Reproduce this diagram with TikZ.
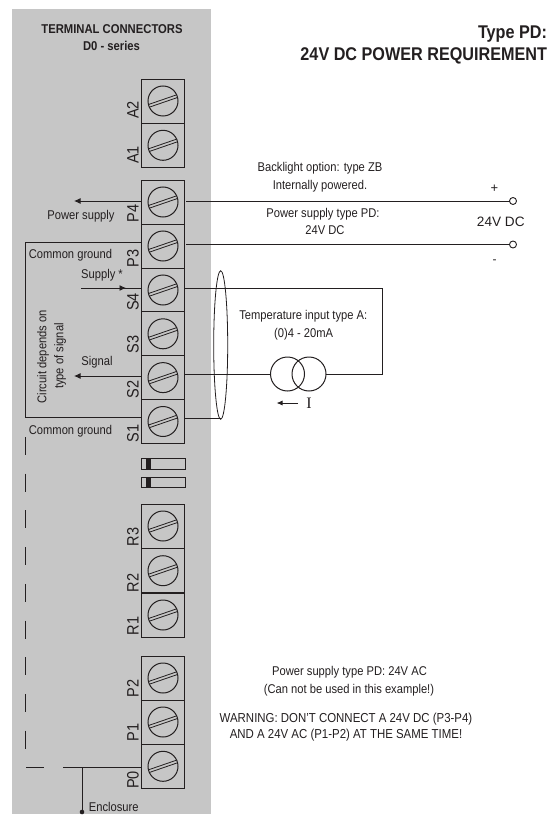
\documentclass[tikz,border=0pt]{standalone}
\usepackage{fontspec}
\setmainfont[FakeStretch=0.88]{Liberation Sans}
\newfontfamily\plainsans{Liberation Sans}
\newfontfamily\serifI{Liberation Serif}
\usetikzlibrary{arrows.meta,shapes.geometric}
\newcommand{\fsz}[1]{\fontsize{#1}{#1}\selectfont}
\definecolor{panel}{HTML}{C6C6C6}
\definecolor{ink}{HTML}{231F20}
\tikzset{
  x=1pt,y=-1pt,
  term/.style={draw=ink,line width=0.9pt,fill=panel,minimum width=43pt,minimum height=44pt,inner sep=0pt,outer sep=0pt},
  wire/.style={draw=ink,line width=0.9pt},
  arr/.style={wire,-{Latex[length=6.5pt,width=6pt]}},
  dashwire/.style={draw=ink,line width=0.9pt,dash pattern=on 18pt off 18.7pt},
  lab/.style={inner sep=0pt,outer sep=0pt,text=ink,font=\fsz{12.7},align=center},
  tlab/.style={lab,font=\fsz{16.5},rotate=90},
  endpt/.style={circle,draw=ink,line width=0.9pt,fill=white,minimum size=7pt,inner sep=0pt,outer sep=0pt},
  src/.style={circle,draw=ink,line width=1pt,minimum size=34pt,inner sep=0pt,outer sep=0pt},
}
\newcommand{\terminal}[4]{%
  \node[term] (#1) at (162.5,#2) {};
  \draw[ink,line width=1pt] (163,#2) circle (15);
  \begin{scope}[shift={(163,#2)},rotate=19]
    \draw[ink,line width=0.8pt] (-14.7,-1.4) -- (14.7,-1.4);
    \draw[ink,line width=0.8pt] (-14.7,1.4) -- (14.7,1.4);
  \end{scope}
  \node[tlab,anchor=base] (#1l) at (138.5,#4) {#3};
}
\begin{document}
\begin{tikzpicture}
\useasboundingbox (0,0) rectangle (557,821);
\fill[panel] (12,9) rectangle (211,814);
\node[lab,font=\fsz{12.8}\bfseries] (title1) at (112,29) {TERMINAL CONNECTORS};
\node[lab,font=\fsz{12.8}\bfseries] (title2) at (111.5,46) {D0 - series};
\node[lab,font=\fsz{18.4}\bfseries,anchor=base east] (type1) at (547,39) {Type PD:};
\node[lab,font=\fsz{18.4}\bfseries,anchor=base east] (type2) at (547,60.5) {24V DC POWER REQUIREMENT};

% terminals
\terminal{A2}{101}{A2}{110}
\terminal{A1}{145.3}{A1}{155}
\terminal{P4}{202}{P4}{213.5}
\terminal{P3}{246}{P3}{258.5}
\terminal{S4}{290}{S4}{302}
\terminal{S3}{333.8}{S3}{344.5}
\terminal{S2}{377.6}{S2}{389.5}
\terminal{S1}{421.5}{S1}{433.5}
\terminal{R3}{526}{R3}{537}
\terminal{R2}{570.7}{R2}{583}
\terminal{R1}{615}{R1}{626}
\terminal{P2}{678}{P2}{688.5}
\terminal{P1}{722}{P1}{732.5}
\terminal{P0}{766.3}{P0}{780}

% slots
\foreach \n/\y in {a/458,b/476.5}{
  \node[draw=ink,line width=0.9pt,fill=panel,minimum width=44pt,minimum height=10.5pt,inner sep=0pt,anchor=north west] (slot\n) at (141,\y) {};
  \fill[ink] (146,\y) rectangle (151,\y+10.5);
}

% circuit box
\coordinate (bxa) at (141,242);
\coordinate (bxb) at (141,417.5);
\draw[wire] (bxa) -- (25,242) -- (25,417.5) -- (bxb);

% dashed ground
\coordinate (gnd1) at (25,437);
\coordinate (gnd2) at (25,750);
\draw[dashwire] (gnd1) -- (gnd2);
\coordinate (ha) at (26,767);
\coordinate (hb) at (44,767);
\draw[wire] (ha) -- (hb);
\coordinate (hc) at (63,767);
\coordinate (p0w) at (141,767);
\coordinate (enc) at (82,812);
\coordinate (encj) at (82,767);
\draw[wire] (hc) -- (p0w);
\draw[wire] (encj) -- (enc);
\fill[ink] (enc) circle (2.3);

% left arrows
\coordinate (psl) at (74,201);
\coordinate (psr) at (141,201);
\draw[arr] (psr) -- (psl);
\coordinate (sigl) at (74,376);
\coordinate (sigr) at (141,376);
\draw[arr] (sigr) -- (sigl);
\coordinate (supl) at (81,288);
\coordinate (supm) at (126,288);
\coordinate (supr) at (141,288);
\draw[wire] (supl) -- (supr);
\draw[arr] (supl) -- (supm);

% right wires
\node[endpt] (plus) at (513,201) {};
\node[endpt] (minus) at (513,244.5) {};
\coordinate (p4r) at (186,201);
\coordinate (p3r) at (186,244.5);
\draw[wire] (p4r) -- (plus);
\draw[wire] (p3r) -- (minus);
\node[src] (c1) at (287.5,374) {};
\node[src] (c2) at (309,374) {};
\coordinate (s4r) at (184.5,288);
\coordinate (s2r) at (184.5,374);
\coordinate (s1r) at (184.5,418.5);
\coordinate (s1e) at (221,418.5);
\coordinate (bendt) at (382.7,288);
\coordinate (bendb) at (382.7,374);
\draw[wire] (s4r) -- (bendt) -- (bendb) -- (c2.east);
\draw[wire] (s2r) -- (c1.west);
\draw[wire] (s1r) -- (s1e);
\node[draw=ink,line width=0.8pt,ellipse,minimum width=14pt,minimum height=148.5pt,inner sep=0pt] (shield) at (220.7,345) {};

% current arrow
\coordinate (ia) at (298,403);
\coordinate (ib) at (276.5,403);
\draw[wire,-{Latex[length=6pt,width=5pt]}] (ia) -- (ib);
\node[lab,font=\serifI\fsz{16}] (I) at (309,403) {I};

% labels
\node[lab] (t1) at (320,168) {Backlight option: type ZB};
\node[lab] (t2) at (320,186) {Internally powered.};
\node[lab] (t3) at (323,214) {Power supply type PD:};
\node[lab] (t4) at (325,230) {24V DC};
\node[lab,font=\plainsans\fsz{13}] (t5) at (494.5,189) {+};
\node[lab,font=\plainsans\fsz{13.6}] (t6) at (500.8,221.5) {24V DC};
\node[lab,font=\plainsans\fsz{12}] (t7) at (494.5,261.5) {-};
\node[lab] (t8) at (303.3,316) {Temperature input type A:};
\node[lab] (t9) at (303.7,334) {(0)4 - 20mA};
\node[lab] (l1) at (81,216) {Power supply};
\node[lab] (l2) at (70.5,255) {Common ground};
\node[lab] (l3) at (102,275.5) {Supply *};
\node[lab] (l4) at (97,362.5) {Signal};
\node[lab] (l5) at (70.5,431.5) {Common ground};
\node[lab] (l6) at (113.7,806.5) {Enclosure};
\node[lab,rotate=90] (l7) at (43,356.7) {Circuit depends on};
\node[lab,rotate=90] (l8) at (60,356) {type of signal};
\node[lab] (w1) at (349.5,672.5) {Power supply type PD: 24V AC};
\node[lab] (w2) at (349,690) {(Can not be used in this example!)};
\node[lab,font=\fsz{13}] (w3) at (346,719) {WARNING: DON'T CONNECT A 24V DC (P3-P4)};
\node[lab,font=\fsz{13}] (w4) at (346,735) {AND A 24V AC (P1-P2) AT THE SAME TIME!};
\end{tikzpicture}
\end{document}
